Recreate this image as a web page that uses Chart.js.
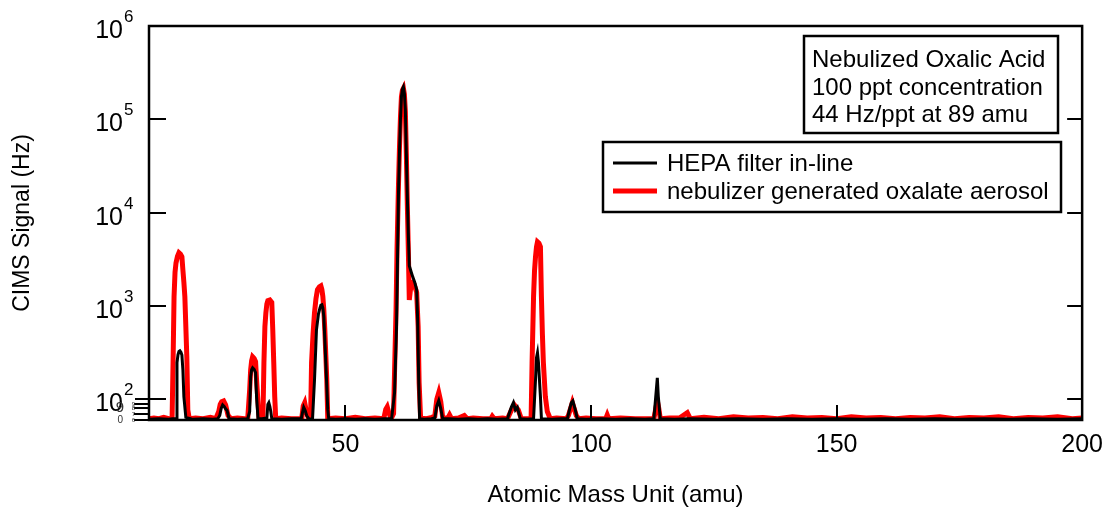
<!DOCTYPE html>
<html><head><meta charset="utf-8">
<script src="https://cdn.jsdelivr.net/npm/chart.js@4.4.1/dist/chart.umd.min.js"></script>
<style>html,body{margin:0;padding:0;background:#fff;}#wrap{width:1105px;height:510px;}</style>
</head><body><div id="wrap"><canvas id="c" width="1105" height="510"></canvas></div>
<script>
// ---- data (amu, Hz) ----
const hepaPoints = [
[10,61],[12,62],[14,61],[14.8,62],
[15.5,62],[15.7,247],[15.9,300],[16.1,325],[16.3,331],[16.5,320],[16.7,298],[16.9,207],[17.1,107],[17.5,64],
[19,61],[21,62],[23,61],[24,62],[24.4,67],[24.7,80],[25.0,87],[25.3,84],[25.6,79],[25.9,76],[26.3,62],
[28,61],[30.1,62],[30.5,74],[30.7,175],[30.9,208],[31.1,218],[31.4,210],[31.7,193],[31.9,107],[32.2,62],
[33,62],[34.0,63],[34.2,88],[34.4,92],[34.6,84],[34.8,74],[35.0,62],
[37,61],[39,62],[41.0,62],[41.3,74],[41.5,82],[41.8,76],[42.1,67],[42.6,61],
[43.3,62],[43.7,162],[44.1,556],[44.5,820],[44.8,950],[45.0,1020],[45.2,1030],[45.4,950],[45.6,766],[46.0,247],[46.4,77],[46.6,62],
[48,61],[50,62],[52,61],[54,62],[56,61],[58,62],[59.4,62],
[60.0,118],[60.4,599],[60.6,3120],[60.8,16300],[61.0,45000],[61.2,100000],[61.4,175000],[61.6,210000],[61.8,222000],[62.0,190000],[62.2,126000],[62.4,42000],[62.6,15000],[62.8,6000],[63.0,2700],[63.4,2300],[63.7,2050],[64.1,1800],[64.5,1490],[64.7,711],[64.9,175],[65.1,62],
[66,61],[67.5,62],[68.2,63],[68.6,85],[69.0,97],[69.4,80],[69.8,62],
[71,62],[73,61],[75,62],[77,61],[79,62],[81,61],[83.0,62],[83.2,67],[83.8,83],[84.2,92],[84.6,77],[85.0,82],[85.6,62],
[87,61],[88.3,62],[88.7,162],[88.9,280],[89.1,315],[89.3,247],[89.7,107],[89.9,62],
[92,61],[94,62],[95.2,62],[95.6,77],[96.0,92],[96.3,96],[96.8,77],[97.2,62],
[99,61],[102,62],[105,61],[108,62],[111,61],[112.8,62],[113.3,127],[113.5,170],[113.7,107],[114.1,62],
[117,61],[120,62],[125,61],[130,62],[135,61],[140,62],[145,61],[150,62],[155,61],[160,62],[165,61],[170,62],[175,61],[180,62],[185,61],[190,62],[195,61],[200,62]
];
const nebulizerPoints = [
[10,62],[11,63],[12,62],[13,64],[14,62],[14.7,62],[14.9,247],[15.1,1260],[15.3,2300],[15.5,2900],[15.8,3400],[16.1,3720],[16.4,3600],[16.7,3370],[16.9,2440],[17.1,1800],[17.3,1260],[17.5,600],[17.7,286],[17.9,77],[18.2,62],
[19.5,63],[21,62],[22.5,64],[23.6,62],[24.2,74],[24.5,88],[24.8,94],[25.2,96],[25.6,87],[26.1,67],[26.7,62],
[28,63],[29.5,62],[30.1,62],[30.5,127],[30.7,207],[30.9,260],[31.1,286],[31.4,275],[31.7,253],[31.9,162],[32.4,62],
[32.9,62],[33.2,62],[33.4,247],[33.6,600],[33.8,845],[34.0,1050],[34.2,1140],[34.6,1160],[35.0,1090],[35.2,556],[35.4,250],[35.6,107],[35.8,62],
[37,63],[39,62],[41.1,62],[41.4,85],[41.7,92],[42.1,72],[42.5,62],
[42.9,62],[43.1,247],[43.4,500],[43.7,845],[44.0,1200],[44.3,1490],[44.7,1600],[45.0,1640],[45.2,1500],[45.4,1260],[45.6,900],[45.8,556],[46.0,300],[46.2,162],[46.4,62],
[48,63],[50,62],[52,64],[54,62],[56,63],[57.8,62],[58.2,78],[58.5,83],[58.9,70],[59.3,62],
[59.8,70],[60.0,200],[60.3,900],[60.5,4000],[60.8,20000],[61.0,50000],[61.2,105000],[61.4,175000],[61.6,205000],[61.8,215000],[62.0,185000],[62.2,120000],[62.4,42000],[62.6,12000],[62.8,4000],[63.0,1160],[63.3,1600],[63.7,1750],[64.0,1700],[64.5,1400],[64.8,600],[65.0,150],[65.3,63],
[66.5,62],[67.6,64],[68.2,66],[68.6,100],[69.0,118],[69.4,95],[69.8,64],
[70.8,62],[71.2,68],[71.6,62],[73,63],[74.2,67],[74.8,62],[76,63],[78,62],[79.6,62],[79.9,66],[80.3,62],[82,63],
[83.0,62],[83.8,77],[84.4,87],[85.2,77],[85.8,62],[87.8,62],[88.0,247],[88.3,1260],[88.5,2400],[88.7,3370],[88.9,4300],[89.1,4860],[89.4,4700],[89.7,4300],[89.9,1260],[90.1,500],[90.3,247],[90.7,107],[91.1,74],[91.7,62],
[93,63],[95.0,62],[95.4,67],[96.2,92],[97.0,67],[97.5,62],
[99,63],[101,62],[103.0,62],[103.3,68],[103.6,62],[106,63],[109,62],[112.8,62],[113.2,80],[113.5,97],[113.8,80],[114.1,62],
[116,63],[118,63],[119.6,72],[120.2,62],[123,64],[126,62],[129,65],[132,63],[135,64],[138,62],[141,65],[144,63],[147,64],[150,62],[153,65],[156,63],[159,64],[162,62],[165,64],[168,63],[171,65],[174,62],[177,64],[180,63],[183,65],[186,62],[189,64],[192,63],[195,65],[198,62],[200,63]
];
const seriesLabels = ['HEPA filter in-line', 'nebulizer generated oxalate aerosol'];
const xTicks = [50, 100, 150, 200];
const yDecades = [2, 3, 4, 5, 6];
const yMinor = [60, 70, 80, 90];
const noteLines = ['Nebulized Oxalic Acid', '100 ppt concentration', '44 Hz/ppt at 89 amu'];
const FONT = "'Liberation Sans', Arial, sans-serif";

const decor = {
  id: 'decor',
  afterDatasetsDraw(chart) {
    const {ctx, chartArea: a, scales: {x, y}} = chart;
    ctx.save();
    ctx.strokeStyle = '#000';
    ctx.lineWidth = 2.5;
    ctx.strokeRect(a.left, a.top, a.right - a.left, a.bottom - a.top);
    ctx.lineWidth = 2;
    ctx.beginPath();
    yDecades.forEach(e => {
      if (e >= 6) return;
      const py = Math.round(y.getPixelForValue(Math.pow(10, e)));
      ctx.moveTo(a.left, py); ctx.lineTo(a.left + 17, py);
      ctx.moveTo(a.right, py); ctx.lineTo(a.right - 15, py);
    });
    const p2 = Math.round(y.getPixelForValue(100));
    ctx.moveTo(a.left - 14, p2); ctx.lineTo(a.left, p2);
    yMinor.forEach(v => {
      const py = Math.round(y.getPixelForValue(v));
      ctx.moveTo(a.left - 15, py); ctx.lineTo(a.left, py);
    });
    xTicks.forEach(v => {
      if (v >= x.max) return;
      const px = Math.round(x.getPixelForValue(v));
      ctx.moveTo(px, a.bottom); ctx.lineTo(px, a.bottom - 15);
    });
    ctx.stroke();
    ctx.restore();
  },
  afterDraw(chart) {
    const {ctx, chartArea: a, scales: {y}} = chart;
    ctx.save();
    ctx.fillStyle = '#000';
    ctx.textBaseline = 'alphabetic';
    yDecades.forEach(e => {
      const py = y.getPixelForValue(Math.pow(10, e));
      ctx.font = '25px ' + FONT;
      ctx.textAlign = 'right';
      ctx.fillText('10', 123, py + 12);
      ctx.font = '17px ' + FONT;
      ctx.textAlign = 'left';
      ctx.fillText(String(e), 124, py - 4);
    });
    ctx.fillStyle = '#333';
    ctx.font = '15px ' + FONT;
    ctx.textAlign = 'right';
    ctx.fillText('9', 124, y.getPixelForValue(90) + 8);
    ctx.font = '10px ' + FONT;
    ctx.fillText('0', 123, y.getPixelForValue(60) + 3);
    ctx.font = '6px ' + FONT;
    yMinor.forEach(v => ctx.fillText(String(v / 10), 135, y.getPixelForValue(v) + 2));
    ctx.lineWidth = 2.5;
    ctx.strokeStyle = '#000';
    ctx.fillStyle = '#fff';
    ctx.fillRect(804, 36, 254, 97);
    ctx.strokeRect(804, 36, 254, 97);
    ctx.fillStyle = '#000';
    ctx.font = '24px ' + FONT;
    ctx.textAlign = 'left';
    noteLines.forEach((t, i) => ctx.fillText(t, 812, 67 + i * 27.5));
    ctx.fillStyle = '#fff';
    ctx.fillRect(603, 142, 458, 70);
    ctx.strokeRect(603, 142, 458, 70);
    const ds = chart.data.datasets;
    const rows = [163, 191];
    ds.forEach((d, i) => {
      ctx.strokeStyle = d.borderColor;
      ctx.lineWidth = d.borderWidth;
      ctx.beginPath();
      ctx.moveTo(613, rows[i]); ctx.lineTo(657, rows[i]);
      ctx.stroke();
      ctx.fillStyle = '#000';
      ctx.textBaseline = 'middle';
      ctx.fillText(d.label, 667, rows[i] + 1);
    });
    ctx.restore();
  }
};

const toXY = arr => arr.map(p => ({x: p[0], y: p[1]}));

new Chart(document.getElementById('c'), {
  type: 'line',
  data: {
    datasets: [
      {label: seriesLabels[0], data: toXY(hepaPoints), borderColor: '#000000', borderWidth: 3, pointRadius: 0, tension: 0, fill: false},
      {label: seriesLabels[1], data: toXY(nebulizerPoints), borderColor: '#ff0000', borderWidth: 5, pointRadius: 0, tension: 0, fill: false}
    ]
  },
  options: {
    responsive: false,
    animation: false,
    devicePixelRatio: 1,
    layout: {padding: {top: 26, right: 22, left: 0, bottom: 0}},
    plugins: {legend: {display: false}, tooltip: {enabled: false}},
    scales: {
      x: {
        type: 'linear', min: 10, max: 200,
        afterBuildTicks: s => { s.ticks = xTicks.map(v => ({value: v})); },
        afterFit: s => { s.height = 90; },
        grid: {display: false}, border: {display: false},
        ticks: {font: {size: 25, family: FONT}, color: '#000', padding: 2, maxRotation: 0, autoSkip: false},
        title: {display: true, text: 'Atomic Mass Unit (amu)', font: {size: 24, family: FONT}, color: '#000', padding: {top: 0, bottom: 0}}
      },
      y: {
        type: 'logarithmic', min: 60, max: 1000000,
        afterFit: s => { s.width = 149; },
        grid: {display: false}, border: {display: false},
        ticks: {display: false},
        title: {display: true, text: 'CIMS Signal (Hz)', font: {size: 23, family: FONT}, color: '#000', padding: {top: 9, bottom: 0}}
      }
    }
  },
  plugins: [decor]
});
</script></body></html>
